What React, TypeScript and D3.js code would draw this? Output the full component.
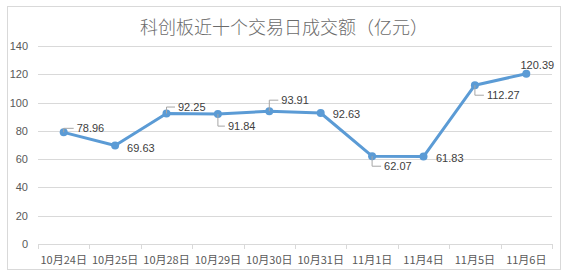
import React from "react";
import * as d3 from "d3";

const categories = ["10月24日", "10月25日", "10月28日", "10月29日", "10月30日", "10月31日", "11月1日", "11月4日", "11月5日", "11月6日"];
const values = [78.96, 69.63, 92.25, 91.84, 93.91, 92.63, 62.07, 61.83, 112.27, 120.39];
const yTicks = [0, 20, 40, 60, 80, 100, 120, 140];
const title = "科创板近十个交易日成交额（亿元）";

// label placement: [dx, dy, leader, anchor]
const labelPlacement: [number, number, boolean, string][] = [
  [13, -4, true, "start"],
  [12, 2, false, "start"],
  [11.5, -6.5, true, "start"],
  [10, 12, true, "start"],
  [12, -11, true, "start"],
  [12, 1, false, "start"],
  [12, 10, true, "start"],
  [12.5, 1.5, false, "start"],
  [12, 10, true, "start"],
  [11, -9, false, "middle"],
];

const W = 565, H = 276;
const plot = { left: 38, right: 552, top: 46, bottom: 244 };
const font = "'Liberation Sans', Arial, sans-serif";

export default function App() {
  const x = d3.scaleBand<string>().domain(categories).range([plot.left, plot.right]);
  const y = d3.scaleLinear().domain([0, 140]).range([plot.bottom, plot.top]);
  const cx = (c: string) => (x(c) as number) + x.bandwidth() / 2;
  const line = d3.line<number>().x((_, i) => cx(categories[i])).y((v) => y(v));

  return (
    <div style={{ position: "absolute", left: 0, top: 0 }}>
      <svg width={W} height={H} style={{ display: "block" }}>
        <rect x={0} y={0} width={W} height={H} fill="#fff" />
        <rect x={7.5} y={6.5} width={553} height={263} fill="#fff" stroke="#d9d9d9" />
        <text x={284} y={34} textAnchor="middle" fontSize={18} fontWeight={300} fill="#6b6b6b" fontFamily="'Noto Sans CJK SC', sans-serif">{title}</text>
        {yTicks.map((t) => (
          <g key={t}>
            {t !== 0 && <line x1={plot.left} x2={plot.right} y1={Math.round(y(t)) + 0.5} y2={Math.round(y(t)) + 0.5} stroke="#d9d9d9" />}
            <text x={28} y={y(t) + 4} textAnchor="end" fontSize={11} fill="#595959" fontFamily={font}>{t}</text>
          </g>
        ))}
        <line x1={plot.left} x2={plot.right} y1={plot.bottom + 0.5} y2={plot.bottom + 0.5} stroke="#d9d9d9" />
        {categories.concat([""]).map((c, i) => {
          const xx = Math.round(plot.left + i * x.bandwidth()) + 0.5;
          return <line key={"tk" + i} x1={xx} x2={xx} y1={plot.bottom} y2={plot.bottom + 5} stroke="#d9d9d9" />;
        })}
        {categories.map((c) => (
          <text key={c} x={cx(c)} y={264} textAnchor="middle" fontSize={11} fill="#595959" fontFamily="'Noto Sans CJK SC', sans-serif">{c}</text>
        ))}
        <path d={line(values) as string} fill="none" stroke="#5B9BD5" strokeWidth={3} strokeLinejoin="round" />
        {values.map((v, i) => (
          <circle key={i} cx={cx(categories[i])} cy={y(v)} r={4} fill="#5B9BD5" />
        ))}
        {values.map((v, i) => {
          const [dx, dy, leader, anchor] = labelPlacement[i];
          const px = cx(categories[i]);
          const py = y(v);
          const tx = px + dx;
          const ty = py + dy;
          return (
            <g key={"l" + i}>
              {leader && (
                <polyline points={`${px},${py} ${px},${ty} ${tx - 3},${ty}`} fill="none" stroke="#a6a6a6" strokeWidth={1} />
              )}
              <text x={tx} y={ty + 4} textAnchor={anchor} fontSize={11} fill="#404040" fontFamily={font}>{v.toFixed(2)}</text>
            </g>
          );
        })}
      </svg>
    </div>
  );
}
